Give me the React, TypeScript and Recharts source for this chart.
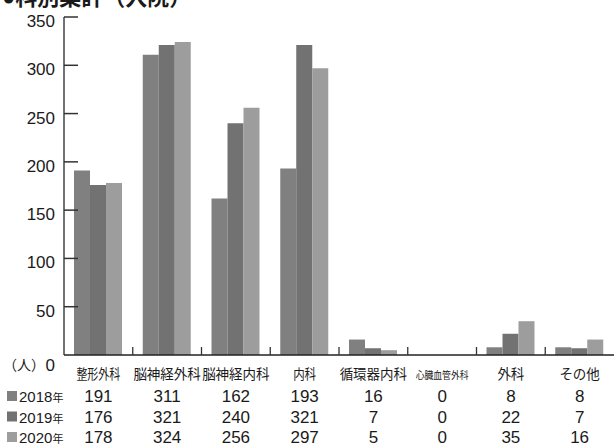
import React from 'react';
import { BarChart, Bar, XAxis, YAxis } from 'recharts';

const categories = ['整形外科', '脳神経外科', '脳神経内科', '内科', '循環器内科', '心臓血管外科', '外科', 'その他'];
const years = ['2018', '2019', '2020'];
const values2018 = [191, 311, 162, 193, 16, 0, 8, 8];
const values2019 = [176, 321, 240, 321, 7, 0, 22, 7];
const values2020 = [178, 324, 256, 297, 5, 0, 35, 16];
const yTicks = [0, 50, 100, 150, 200, 250, 300, 350];
const title = '●科別集計（入院）';

const series = [values2018, values2019, values2020];
const COLORS = ['#808080', '#727272', '#9d9d9d'];
const W = 614;
const H = 445;
const YW = 64;
const XH = 90;
const TOP = 17;
const FONT = '"Liberation Sans", Arial, "Noto Sans CJK JP", sans-serif';
const TEXT = '#1a1a1a';
// label compression (style only)
const LABEL_FIT: Record<string, { len: number; size: number }> = {
  '整形外科': { len: 44, size: 13.5 },
  '内科': { len: 23, size: 13.5 },
  '心臓血管外科': { len: 53, size: 10 },
};

const data = categories.map((c, i) => ({
  name: c,
  y2018: values2018[i],
  y2019: values2019[i],
  y2020: values2020[i],
}));

const YTick = (props: any) => {
  const { x, y, payload } = props;
  const v = payload.value;
  return (
    <g>
      {v > 0 && <line x1={x} x2={x + 14} y1={y} y2={y} stroke="#333" strokeWidth={1.5} />}
      <text x={x - 9} y={v === 0 ? y + 16 : y + 10} textAnchor="end" fontSize={17} fontFamily={FONT} fill={TEXT}>
        {v}
      </text>
      {v === 0 && (
        <text x={3} y={y + 15} fontSize={14} fontFamily={FONT} fill={TEXT}>
          （人）
        </text>
      )}
    </g>
  );
};

const XTick = (props: any) => {
  const { x, y, payload } = props;
  const label = payload.value as string;
  const i = categories.indexOf(label);
  const band = (W - YW) / categories.length;
  const fit = LABEL_FIT[label];
  return (
    <g>
      {i > 0 && <line x1={x - band / 2} x2={x - band / 2} y1={y} y2={y - 8} stroke="#333" strokeWidth={1.3} />}
      <text
        x={x}
        y={y + 24}
        textAnchor="middle"
        fontSize={fit ? fit.size : 13.5}
        fontFamily={FONT}
        fill={TEXT}
        {...(fit ? { textLength: fit.len, lengthAdjust: 'spacingAndGlyphs' } : {})}
      >
        {label}
      </text>
      {series.map((s, k) => (
        <text key={k} x={x} y={y + 47 + k * 20.5} textAnchor="middle" fontSize={17} fontFamily={FONT} fill={TEXT}>
          {s[i]}
        </text>
      ))}
      {i === 0 &&
        years.map((yr, k) => (
          <g key={'l' + k}>
            <rect x={7} y={y + 47 + k * 20.5 - 11} width={10} height={10} fill={COLORS[k]} />
            <text x={19} y={y + 47 + k * 20.5} fontSize={15} fontFamily={FONT} fill={TEXT}>
              <tspan>{yr}</tspan>
              <tspan fontSize={11}>年</tspan>
            </text>
          </g>
        ))}
    </g>
  );
};

export default function App() {
  return (
    <div style={{ position: 'absolute', left: 0, top: 0, width: W, height: H, overflow: 'hidden', background: '#fff' }}>
      <div
        style={{
          position: 'absolute',
          left: 2,
          top: -13,
          fontSize: 22,
          lineHeight: '22px',
          fontWeight: 'bold',
          fontFamily: FONT,
          color: TEXT,
          whiteSpace: 'nowrap',
        }}
      >
        {title}
      </div>
      <BarChart
        width={W}
        height={H}
        data={data}
        margin={{ top: TOP, right: 0, bottom: 0, left: 0 }}
        barCategoryGap={10}
        barGap={0}
      >
        <YAxis
          width={YW}
          domain={[0, 350]}
          ticks={yTicks}
          interval={0}
          tickSize={0}
          tickMargin={0}
          tickLine={false}
          axisLine={{ stroke: '#444', strokeWidth: 1.5 }}
          tick={<YTick />}
        />
        <XAxis
          dataKey="name"
          height={XH}
          interval={0}
          tickSize={0}
          tickMargin={0}
          tickLine={false}
          axisLine={{ stroke: '#222', strokeWidth: 1.5 }}
          tick={<XTick />}
        />
        <Bar dataKey="y2018" fill={COLORS[0]} isAnimationActive={false} />
        <Bar dataKey="y2019" fill={COLORS[1]} isAnimationActive={false} />
        <Bar dataKey="y2020" fill={COLORS[2]} isAnimationActive={false} />
      </BarChart>
    </div>
  );
}
